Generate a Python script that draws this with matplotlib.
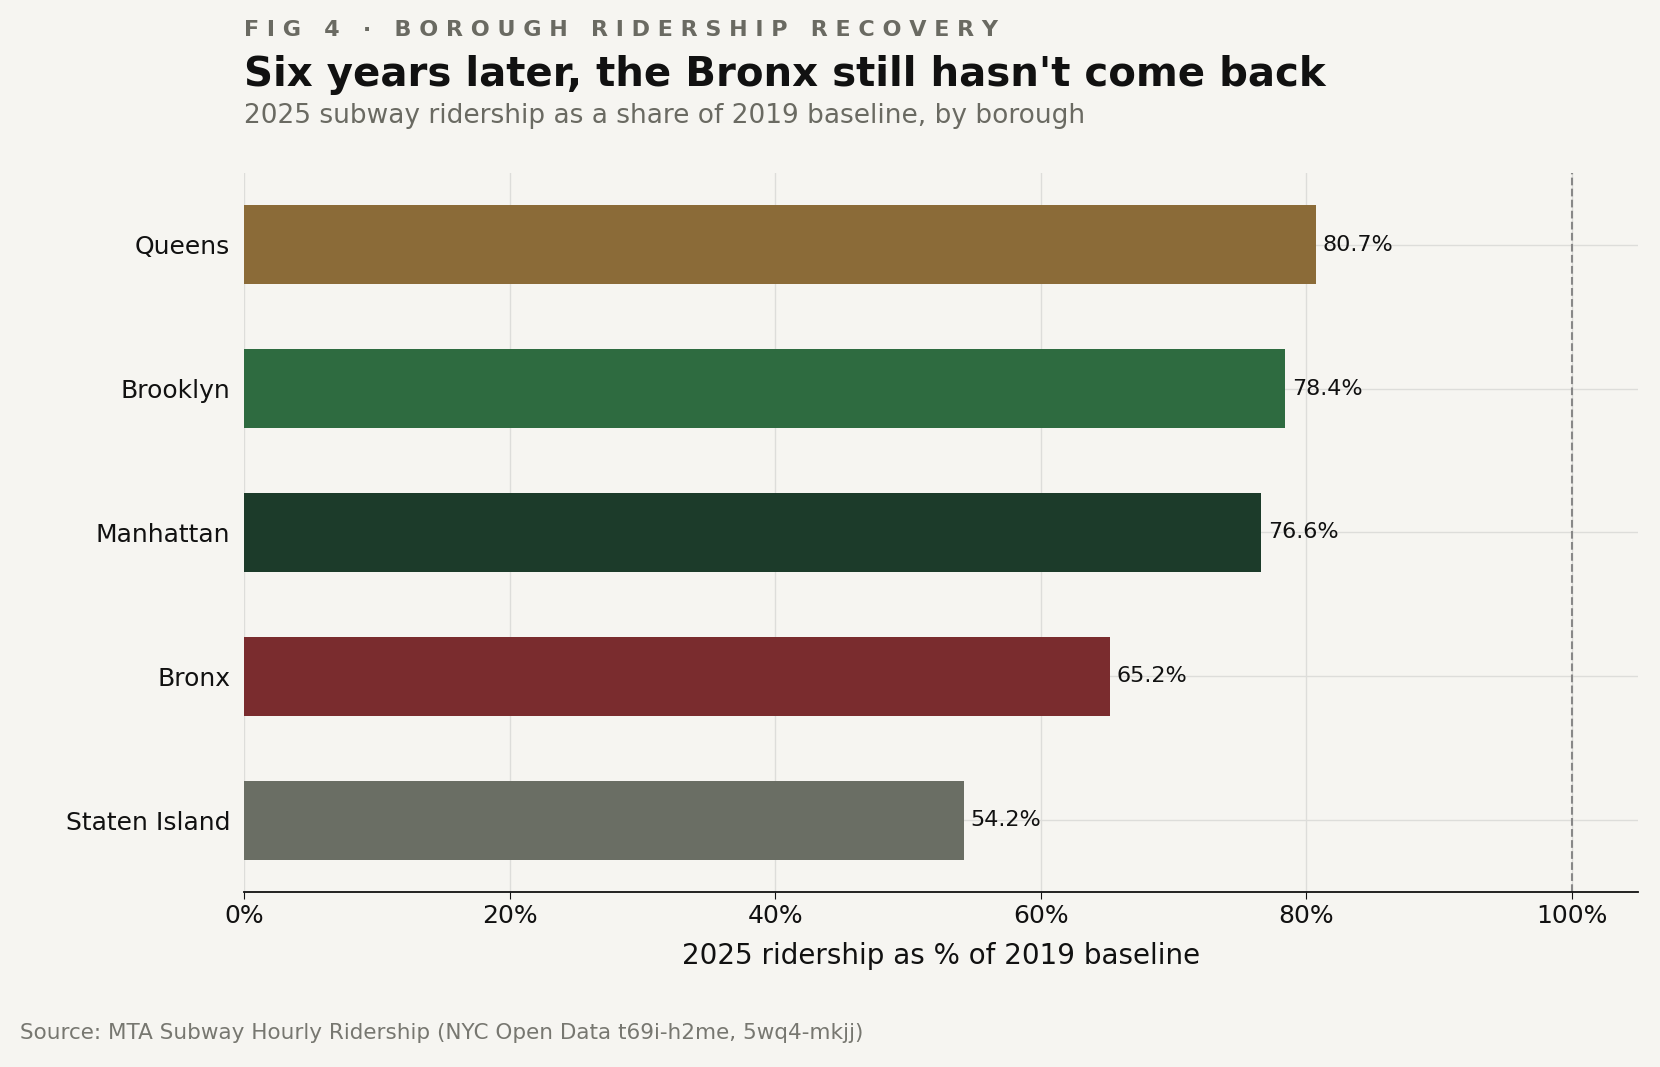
import matplotlib
matplotlib.use("Agg")
import matplotlib.pyplot as plt

boroughs = ["Queens", "Brooklyn", "Manhattan", "Bronx", "Staten Island"]
values = [80.7, 78.4, 76.6, 65.2, 54.2]
colors = ["#8B6B38", "#2E6B40", "#1C3B2A", "#7A2C2E", "#6A6E64"]
xticks = [0, 20, 40, 60, 80, 100]
xticklabels = ["0%", "20%", "40%", "60%", "80%", "100%"]

bg = "#F6F5F1"
fig = plt.figure(figsize=(16.6, 10.67), dpi=100, facecolor=bg)
ax = fig.add_axes([0.147, 0.164, 0.84, 0.674], facecolor=bg)

y = list(range(len(boroughs)))[::-1]
ax.barh(y, values, height=0.55, color=colors, zorder=3)
for yi, v in zip(y, values):
    ax.text(v + 0.5, yi, f"{v}%", va="center", ha="left", fontsize=16, color="#111111", zorder=4)

ax.axvline(100, color="#888888", ls="--", lw=1.5, zorder=2)
ax.set_xlim(0, 105)
ax.set_ylim(-0.5, 4.5)
ax.set_yticks(y)
ax.set_yticklabels(boroughs, fontsize=18, color="#111111")
ax.set_xticks(xticks)
ax.set_xticklabels(xticklabels, fontsize=18, color="#111111")
ax.grid(True, axis="both", color="#DDDDDA", lw=1, zorder=0)
ax.tick_params(axis="y", length=0, pad=10)
ax.tick_params(axis="x", length=5, color="#111111")
for s in ["top", "right", "left"]:
    ax.spines[s].set_visible(False)
ax.spines["bottom"].set_color("#111111")
ax.spines["bottom"].set_linewidth(1.3)
ax.set_xlabel("2025 ridership as % of 2019 baseline", fontsize=20, color="#111111", labelpad=10)

fig.text(0.147, 0.972, "F I G   4   ·   B O R O U G H   R I D E R S H I P   R E C O V E R Y",
         fontsize=16, fontweight="bold", color="#6A6A62", va="center")
fig.text(0.147, 0.930, "Six years later, the Bronx still hasn't come back",
         fontsize=29, fontweight="bold", color="#111111", va="center")
fig.text(0.147, 0.891, "2025 subway ridership as a share of 2019 baseline, by borough",
         fontsize=19, color="#6A6A62", va="center")
fig.text(0.012, 0.032, "Source: MTA Subway Hourly Ridership (NYC Open Data t69i-h2me, 5wq4-mkjj)",
         fontsize=15.5, color="#777770", va="center")

fig.savefig("out.png", dpi=100, facecolor=bg)
